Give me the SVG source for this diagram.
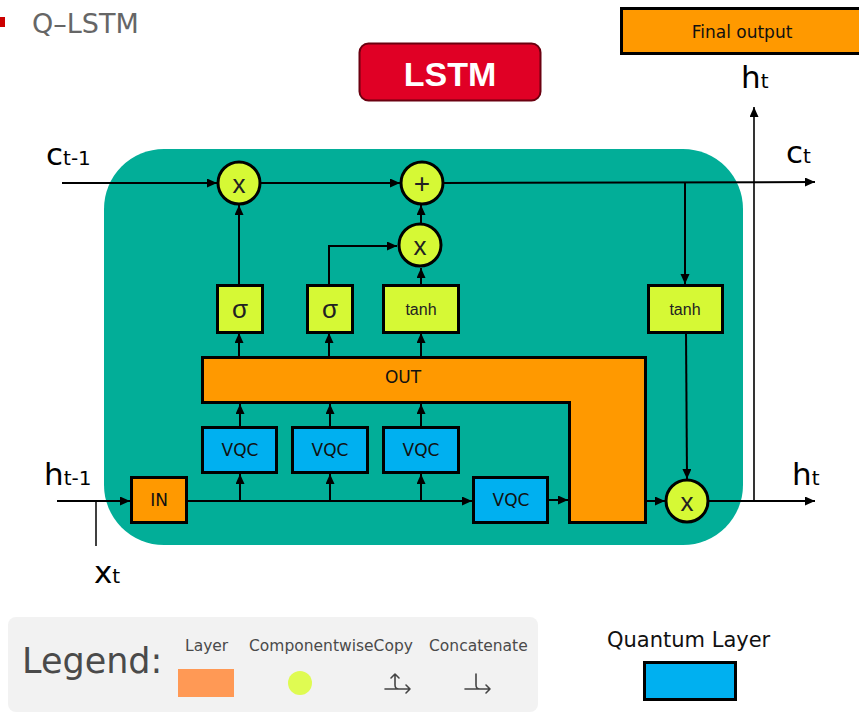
<svg xmlns="http://www.w3.org/2000/svg" width="859" height="712" viewBox="0 0 859 712">
  <defs>
    <marker id="arr" markerUnits="userSpaceOnUse" markerWidth="11" markerHeight="10" refX="10" refY="4.5" orient="auto">
      <path d="M0,0 L10,4.5 L0,9 z" fill="#000"/>
    </marker>
    <style>
      .lbl { font-family: "DejaVu Sans", Verdana, sans-serif; fill: #000; }
      .gate { fill: #D6F935; stroke: #000; stroke-width: 3; }
      .layer { fill: #FF9900; stroke: #000; stroke-width: 3; }
      .vqc { fill: #00B0F0; stroke: #000; stroke-width: 3; }
      .op { fill: #D6F935; stroke: #000; stroke-width: 3; }
      .conn path, .conn line { fill: none; stroke: #000; stroke-width: 2; }
      .arrow { marker-end: url(#arr); }
      .boxtxt { font-family: "DejaVu Sans", Verdana, sans-serif; font-size: 17px; text-anchor: middle; fill: #111; }
      .gtxt { font-family: "Liberation Sans", Arial, sans-serif; text-anchor: middle; fill: #222; }
      .legtxt { font-family: "DejaVu Sans", sans-serif; fill: #4a4a4a; }
      .icon { fill: none; stroke: #444; stroke-width: 1.6; stroke-linecap: round; stroke-linejoin: round; }
    </style>
  </defs>

  <!-- page title -->
  <g id="title">
    <rect x="0" y="17" width="5" height="10" fill="#CC0000"/>
    <text x="32" y="33" font-family="DejaVu Sans, Verdana, sans-serif" font-size="27" fill="#666">Q–LSTM</text>
  </g>

  <!-- cell badge -->
  <g id="lstm-badge">
    <rect x="359.5" y="43.5" width="181" height="57" rx="9" fill="#E00025" stroke="#6B0010" stroke-width="2"/>
    <text x="450" y="86" text-anchor="middle" font-family="Liberation Sans, Arial, sans-serif" font-weight="bold" font-size="34" fill="#fff">LSTM</text>
  </g>

  <!-- final output layer -->
  <g id="final-output">
    <rect x="621.5" y="8.5" width="242" height="45" class="layer"/>
    <text x="742" y="38" class="boxtxt" font-size="17.5">Final output</text>
  </g>

  <!-- cell body -->
  <g id="cell">
    <rect x="104" y="149" width="639" height="396" rx="60" fill="#02AE98"/>
  </g>

  <!-- connectors -->
  <g id="connectors" class="conn">
    <line x1="62" y1="183" x2="217" y2="183" class="arrow"/>
    <line x1="260" y1="183" x2="400" y2="183" class="arrow"/>
    <line x1="443" y1="183" x2="815" y2="182" class="arrow"/>
    <line x1="685" y1="183" x2="685" y2="284" class="arrow"/>
    <line x1="686" y1="332" x2="687" y2="479" class="arrow"/>
    <line x1="239" y1="285" x2="239" y2="205" class="arrow"/>
    <path d="M329,285 V246 H397" class="arrow"/>
    <line x1="421" y1="285" x2="421" y2="268" class="arrow"/>
    <line x1="421" y1="224" x2="421" y2="205" class="arrow"/>
    <line x1="239" y1="356" x2="239" y2="333" class="arrow"/>
    <line x1="329" y1="356" x2="329" y2="333" class="arrow"/>
    <line x1="421" y1="356" x2="421" y2="333" class="arrow"/>
    <line x1="240" y1="426" x2="240" y2="404" class="arrow"/>
    <line x1="330" y1="426" x2="330" y2="404" class="arrow"/>
    <line x1="421" y1="426" x2="421" y2="404" class="arrow"/>
    <line x1="187" y1="501" x2="472" y2="501" class="arrow"/>
    <line x1="240" y1="501" x2="240" y2="474" class="arrow"/>
    <line x1="330" y1="501" x2="330" y2="474" class="arrow"/>
    <line x1="421" y1="501" x2="421" y2="474" class="arrow"/>
    <line x1="57" y1="501" x2="130" y2="501" class="arrow"/>
    <line x1="96" y1="546" x2="96" y2="501" style="stroke-width:1.5"/>
    <line x1="548" y1="500" x2="568" y2="500" class="arrow"/>
    <line x1="646" y1="501" x2="665" y2="501" class="arrow"/>
    <line x1="708" y1="501" x2="815" y2="501" class="arrow"/>
    <line x1="754" y1="501" x2="754" y2="107" class="arrow" style="stroke-width:1.6"/>
  </g>

  <!-- pointwise operations -->
  <g id="forget-mul">
    <circle cx="239" cy="183" r="21" class="op"/>
    <text x="239" y="193" class="gtxt" font-size="26">x</text>
  </g>
  <g id="cell-add">
    <circle cx="422" cy="183" r="21" class="op"/>
    <text x="422" y="193" class="gtxt" font-size="28">+</text>
  </g>
  <g id="input-mul">
    <circle cx="420" cy="245" r="21" class="op"/>
    <text x="420" y="255" class="gtxt" font-size="26">x</text>
  </g>
  <g id="output-mul">
    <circle cx="687" cy="501" r="21" class="op"/>
    <text x="687" y="511" class="gtxt" font-size="26">x</text>
  </g>

  <!-- gate activations -->
  <g id="sigma-forget">
    <rect x="217.5" y="285.5" width="45" height="47" class="gate"/>
    <text x="240" y="318" class="gtxt" font-size="26">σ</text>
  </g>
  <g id="sigma-input">
    <rect x="307.5" y="285.5" width="45" height="47" class="gate"/>
    <text x="330" y="318" class="gtxt" font-size="26">σ</text>
  </g>
  <g id="tanh-candidate">
    <rect x="383.5" y="285.5" width="75" height="47" class="gate"/>
    <text x="421" y="315" class="gtxt" font-size="16">tanh</text>
  </g>
  <g id="tanh-cell">
    <rect x="648.5" y="285.5" width="74" height="47" class="gate"/>
    <text x="685" y="315" class="gtxt" font-size="16">tanh</text>
  </g>

  <!-- output layer -->
  <g id="out-layer">
    <path d="M202.5,357.5 H645.5 V522.5 H569.5 V402.5 H202.5 Z" class="layer"/>
    <text x="403" y="383" class="boxtxt">OUT</text>
  </g>

  <!-- input layer -->
  <g id="in-layer">
    <rect x="131.5" y="477.5" width="55" height="45" class="layer"/>
    <text x="159" y="506" class="boxtxt">IN</text>
  </g>

  <!-- variational quantum circuits -->
  <g id="vqc-1">
    <rect x="202.5" y="427.5" width="74" height="45" class="vqc"/>
    <text x="240" y="456" class="boxtxt">VQC</text>
  </g>
  <g id="vqc-2">
    <rect x="292.5" y="427.5" width="75" height="45" class="vqc"/>
    <text x="330" y="456" class="boxtxt">VQC</text>
  </g>
  <g id="vqc-3">
    <rect x="383.5" y="427.5" width="75" height="45" class="vqc"/>
    <text x="421" y="456" class="boxtxt">VQC</text>
  </g>
  <g id="vqc-4">
    <rect x="473.5" y="477.5" width="74" height="45" class="vqc"/>
    <text x="511" y="506" class="boxtxt">VQC</text>
  </g>

  <!-- signal labels -->
  <g id="labels">
    <text x="46" y="165" class="lbl"><tspan font-size="31">c</tspan><tspan font-size="20">t-1</tspan></text>
    <text x="44" y="485" class="lbl"><tspan font-size="31">h</tspan><tspan font-size="20">t-1</tspan></text>
    <text x="94" y="583" class="lbl"><tspan font-size="31">x</tspan><tspan font-size="20">t</tspan></text>
    <text x="786" y="163" class="lbl"><tspan font-size="31">c</tspan><tspan font-size="20">t</tspan></text>
    <text x="792" y="485" class="lbl"><tspan font-size="31">h</tspan><tspan font-size="20">t</tspan></text>
    <text x="741" y="88" class="lbl"><tspan font-size="31">h</tspan><tspan font-size="20">t</tspan></text>
  </g>

  <!-- legend -->
  <g id="legend">
    <rect x="8" y="617" width="530" height="95" rx="8" fill="#F2F2F2"/>
    <text x="22" y="673" class="legtxt" font-size="35">Legend:</text>
    <text x="185" y="651" class="legtxt" font-size="15.5">Layer</text>
    <rect x="178" y="669" width="56" height="28" fill="#FF9955"/>
    <text x="249" y="651" class="legtxt" font-size="15.5">ComponentwiseCopy</text>
    <circle cx="300" cy="683" r="12" fill="#DFFB52"/>
    <text x="429" y="651" class="legtxt" font-size="15.5">Concatenate</text>
    <!-- copy icon -->
    <path d="M385,689 H410 M406,685 L410,689 L406,693 M395,674 V685 Q395,689 399,689 M391,678 L395,674 L399,678" class="icon"/>
    <!-- concatenate icon -->
    <path d="M465,689 H490 M486,685 L490,689 L486,693 M476,674 V685 Q476,689 480,689" class="icon"/>
  </g>

  <g id="quantum-legend">
    <text x="607" y="647" font-family="DejaVu Sans, Verdana, sans-serif" font-size="21" fill="#111">Quantum Layer</text>
    <rect x="644.5" y="662.5" width="91" height="37" class="vqc"/>
  </g>
</svg>
